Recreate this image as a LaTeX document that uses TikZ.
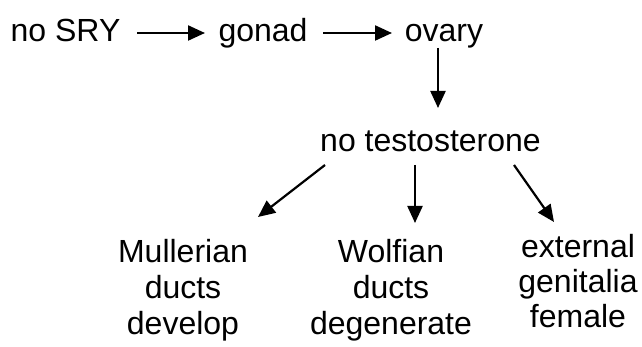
\documentclass[tikz,border=0pt]{standalone}
\usepackage{fontspec}
\setmainfont{Liberation Sans}
\usetikzlibrary{arrows.meta,calc}

\tikzset{
  lbl/.style={inner sep=0pt, font=\fontsize{32}{36}\selectfont},
  col/.style={lbl, align=center, anchor=north},
  arr/.style={line width=2.2pt, -{Triangle[length=17pt,width=15pt]}}
}

\begin{document}
\begin{tikzpicture}[x=1pt, y=-1pt]
  \useasboundingbox (0,0) rectangle (642,347);

  % top row
  \node[lbl, anchor=base] (sry)    at (65.5,42) {no SRY};
  \node[lbl, anchor=base] (gonad)  at (263,42)  {gonad};
  \node[lbl, anchor=base] (ovary)  at (444,42)  {ovary};
  \node[lbl, anchor=base] (notest) at (430.5,152) {no testosterone};

  % outcomes
  \node[col] (mull) at (183,239) {Mullerian\\ducts\\develop};
  \node[col] (wolf) at (391,239) {Wolfian\\ducts\\degenerate};
  \node[col, font=\fontsize{32}{35}\selectfont] (ext) at (578,234) {external\\genitalia\\female};

  % connectors
  \draw[arr] ($(sry.base)+(71.5,-9)$)    -- ($(gonad.base)+(-58,-9)$);
  \draw[arr] ($(gonad.base)+(60,-9)$)    -- ($(ovary.base)+(-52,-9)$);
  \draw[arr] ($(ovary.base)+(-6,6)$)     -- ($(notest.base)+(7.5,-44)$);
  \draw[arr] ($(notest.base)+(-105.5,13)$) -- ($(mull.north)+(75,-22)$);
  \draw[arr] ($(notest.base)+(-15.5,13)$)  -- ($(wolf.north)+(24,-16)$);
  \draw[arr] ($(notest.base)+(83.5,13)$)   -- ($(ext.north)+(-24,-12)$);
\end{tikzpicture}
\end{document}
